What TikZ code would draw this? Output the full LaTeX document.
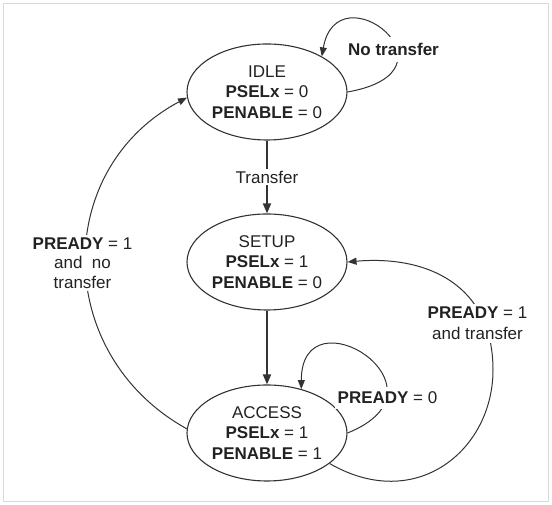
\documentclass[tikz,border=0pt]{standalone}
\usepackage{fontspec}
\setmainfont{Liberation Sans}
\usetikzlibrary{arrows.meta,shapes.geometric}
\definecolor{ink}{HTML}{222222}
\definecolor{linecol}{HTML}{333333}
\definecolor{framecol}{HTML}{D9D9D9}
\begin{document}
\begin{tikzpicture}[x=1pt,y=1pt,
  state/.style={ellipse, draw=linecol, line width=1.1pt, minimum width=160pt, minimum height=96pt,
    inner sep=0pt, align=center, font=\fontsize{17}{20.5}\selectfont, text=ink},
  lbl/.style={fill=white, align=center, font=\fontsize{17}{20}\selectfont, text=ink},
  conn/.style={draw=linecol, line width=1pt, -{Triangle[length=9pt,width=7pt]}},
  straight/.style={draw=linecol, line width=1.8pt, -{Triangle[length=10pt,width=8pt]}}]
\useasboundingbox (0,0) rectangle (552,505);
\draw[framecol, line width=1.2pt] (3.5,3.5) rectangle (548.5,501.5);

\node[state] (idle) at (267,413) {IDLE\\\textbf{PSELx} = 0\\\textbf{PENABLE} = 0};
\node[state] (setup) at (267,243) {SETUP\\\textbf{PSELx} = 1\\\textbf{PENABLE} = 0};
\node[state] (access) at (267,72) {ACCESS\\\textbf{PSELx} = 1\\\textbf{PENABLE} = 1};

\draw[straight] (idle) -- node[lbl, inner sep=2pt] (tr) {Transfer} (setup);
\draw[straight] (setup) -- (access);

% IDLE self loop
\draw[conn] (idle.east) to[out=10,in=80,out distance=122,in distance=90] (idle.33);
\node[lbl, font=\fontsize{17}{20}\selectfont\bfseries, inner xsep=3pt, inner ysep=6pt] (nt) at (393.5,455.7) {No transfer};

% ACCESS self loop
\draw[conn] (access.east) to[out=22,in=90,out distance=120,in distance=100] (access.52);
\node[lbl, inner xsep=3pt, inner ysep=5pt] (p0) at (387.5,107) {\textbf{PREADY} = 0};

% ACCESS -> IDLE
\draw[conn] (access.177) to[out=151,in=208,out distance=153,in distance=153] (idle.184);
\node[lbl, font=\fontsize{17}{19.5}\selectfont, inner sep=3pt] (pl) at (82.5,242) {\textbf{PREADY} = 1\\and\ \ no\\transfer};

% ACCESS -> SETUP
\coordinate (rr) at (493,135);
\draw[conn] (access.-26) to[out=-30,in=-90,out distance=100,in distance=80] (rr)
  to[out=90,in=5,out distance=85,in distance=80] (setup.east);
\node[lbl, font=\fontsize{17}{21}\selectfont, inner sep=3pt] (pr) at (477.5,181.5) {\textbf{PREADY} = 1\\and transfer};
\end{tikzpicture}
\end{document}
